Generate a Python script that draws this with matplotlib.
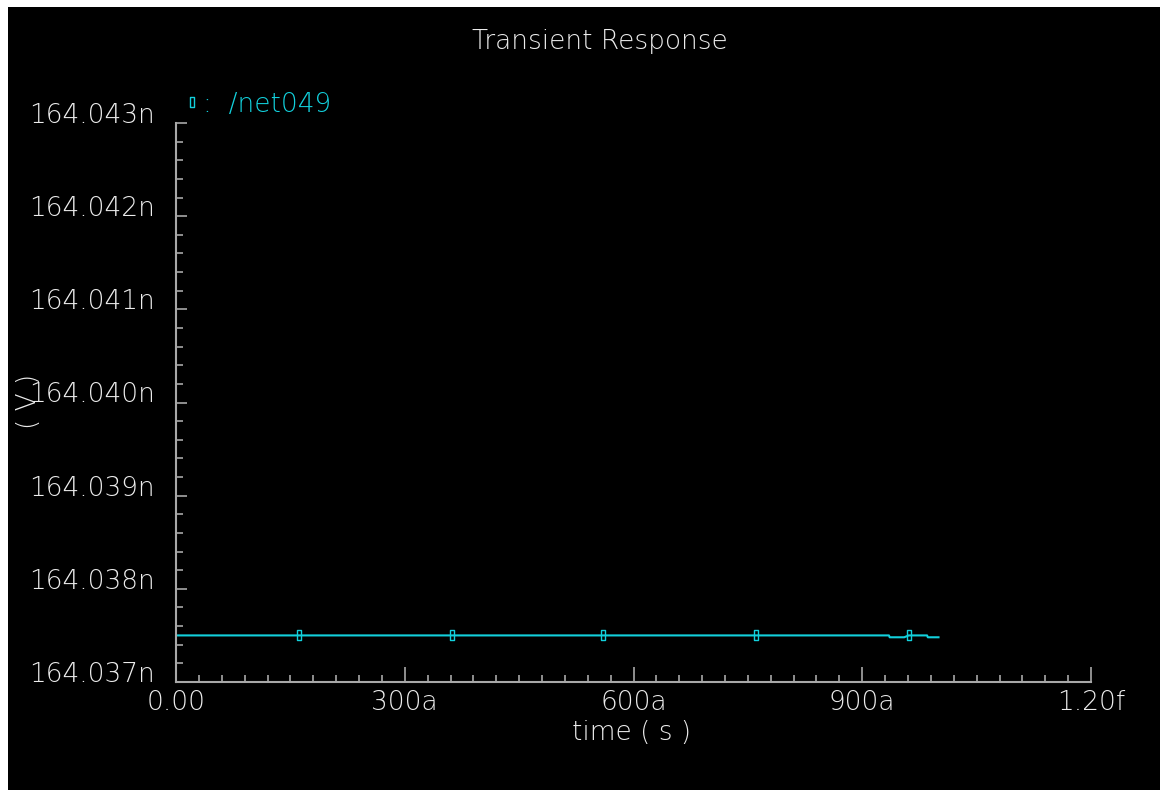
import numpy as np
import matplotlib
matplotlib.use("Agg")
import matplotlib.pyplot as plt
from matplotlib.path import Path
from matplotlib.lines import Line2D
from matplotlib.ticker import FixedLocator
from matplotlib.patches import Rectangle

# ---- data ----
time_as = [0, 161, 362, 560, 761, 935, 936, 955, 961, 985, 986, 1000]   # attoseconds
net049_V = [164.0375e-9, 164.0375e-9, 164.0375e-9, 164.0375e-9, 164.0375e-9,
            164.0375e-9, 164.03748e-9, 164.03748e-9, 164.0375e-9, 164.0375e-9,
            164.03748e-9, 164.03748e-9]
marker_idx = [1, 2, 3, 4, 8]

xtick_vals_as = [0, 300, 600, 900, 1200]
xtick_labels = ["0.00", "300a", "600a", "900a", "1.20f"]
ytick_vals = [164.037e-9, 164.038e-9, 164.039e-9, 164.040e-9, 164.041e-9, 164.042e-9, 164.043e-9]
ytick_labels = ["164.037n", "164.038n", "164.039n", "164.040n", "164.041n", "164.042n", "164.043n"]
x_minor_per_major = 10
y_minor_per_major = 5

title = "Transient Response"
xlabel = "time ( s )"
ylabel = "( V )"
series_name = ":  /net049"

# ---- style ----
W, H = 1160, 790
fig = plt.figure(figsize=(W / 100, H / 100), dpi=100, facecolor="white")
fig.patches.append(Rectangle((8 / W, 0), 1 - 8 / W, 1 - 7 / H, transform=fig.transFigure,
                             facecolor="black", edgecolor="none", zorder=-10))

cyan = "#12d0dc"
txt = "#ececec"
axc = "#a8a8a8"
fs = 19
font = dict(family="DejaVu Sans", weight="light")

left, right, top, bottom = 176, 1091, 123, 682
ax = fig.add_axes([left / W, (H - bottom) / H, (right - left) / W, (bottom - top) / H])
ax.set_facecolor("none")

rect = Path([(-0.4, -1), (0.4, -1), (0.4, 1), (-0.4, 1), (-0.4, -1)],
            [Path.MOVETO, Path.LINETO, Path.LINETO, Path.LINETO, Path.CLOSEPOLY])

t = np.array(time_as) * 1e-18
ax.plot(t, net049_V, color=cyan, lw=1.5, marker=rect, markevery=marker_idx,
        ms=7.5, mfc="none", mec=cyan, mew=1.0)

ax.set_xlim(0, xtick_vals_as[-1] * 1e-18)
ax.set_ylim(ytick_vals[0], ytick_vals[-1])

for s in ["top", "right"]:
    ax.spines[s].set_visible(False)
for s in ["left", "bottom"]:
    ax.spines[s].set_color(axc)
    ax.spines[s].set_linewidth(1.5)

xmaj = np.array(xtick_vals_as) * 1e-18
ax.xaxis.set_major_locator(FixedLocator(xmaj))
ax.set_xticklabels(xtick_labels, color=txt, fontsize=fs, **font)
xminor = np.concatenate([np.linspace(a, b, x_minor_per_major + 1)[1:-1] for a, b in zip(xmaj[:-1], xmaj[1:])])
ax.xaxis.set_minor_locator(FixedLocator(xminor))

ax.yaxis.set_major_locator(FixedLocator(ytick_vals))
ax.set_yticklabels(ytick_labels, color=txt, fontsize=fs, **font)
yminor = np.concatenate([np.linspace(a, b, y_minor_per_major + 1)[1:-1] for a, b in zip(ytick_vals[:-1], ytick_vals[1:])])
ax.yaxis.set_minor_locator(FixedLocator(yminor))

ax.tick_params(axis="both", which="both", direction="in", color=axc, width=1.2)
ax.tick_params(axis="x", which="major", length=11, pad=6)
ax.tick_params(axis="x", which="minor", length=5)
ax.tick_params(axis="y", which="major", length=8, pad=15)
ax.tick_params(axis="y", which="minor", length=5)
for lab in ax.get_yticklabels():
    lab.set_va("baseline")

fig.text(600 / W, 1 - 42 / H, title, color=txt, fontsize=fs, ha="center", va="center", **font)
fig.text(632 / W, 1 - 733 / H, xlabel, color=txt, fontsize=fs, ha="center", va="center", **font)
fig.text(28 / W, 1 - 401 / H, ylabel, color=txt, fontsize=fs, rotation=90,
         ha="center", va="center", **font)

handle = Line2D([], [], ls="none", marker=rect, ms=7.5, mfc="none", mec=cyan, mew=1.0)
leg = fig.legend([handle], [series_name], loc="center left",
                 bbox_to_anchor=(187 / W, 1 - 104 / H), frameon=False,
                 handlelength=0.4, handletextpad=0.2, borderpad=0, borderaxespad=0,
                 prop=dict(size=fs, family="DejaVu Sans", weight="light"))
for tx in leg.get_texts():
    tx.set_color(cyan)

fig.savefig("out.png", dpi=100, facecolor=fig.get_facecolor())
